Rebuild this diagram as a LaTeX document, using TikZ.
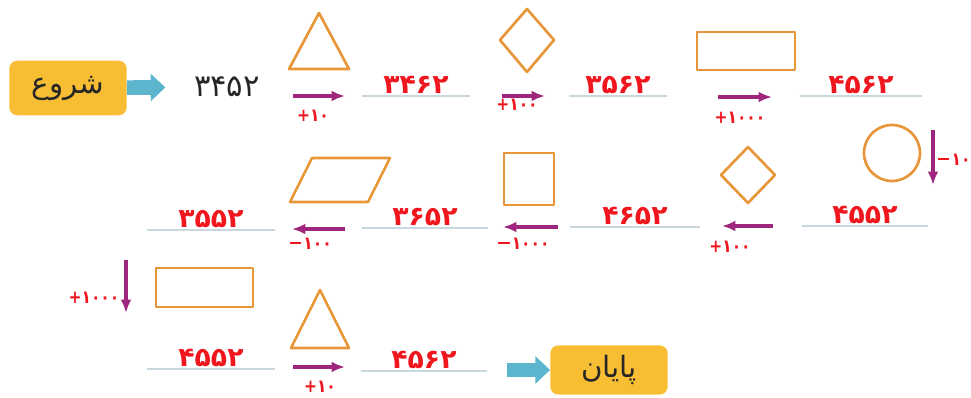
\documentclass[tikz,border=0pt]{standalone}
\usepackage{fontspec}
\usepackage{tikz}
\usetikzlibrary{positioning,arrows.meta}
\TeXXeTstate=1
\newfontfamily\farsi[Script=Arabic]{DejaVu Sans}
\newfontfamily\farsinarrow[Script=Arabic, FakeStretch=0.86]{DejaVu Sans}
\definecolor{shapeorange}{RGB}{232,150,58}
\definecolor{stepmagenta}{RGB}{158,38,125}
\definecolor{boxyellow}{RGB}{247,190,52}
\definecolor{pointblue}{RGB}{92,180,205}
\definecolor{blankgray}{RGB}{200,216,222}
\definecolor{numred}{RGB}{240,22,30}
\newcommand\sgn[1]{\hbox{#1}}
\newcommand\minussgn{\hbox{\rule[0.3em]{0.62em}{0.15em}\kern0.12em}}
\tikzset{
  endbox/.style={fill=boxyellow, rounded corners=6pt, minimum width=88pt, minimum height=41pt, font=\farsi\fontsize{22}{26}\selectfont, text=black!85},
  pointer/.style={-{Triangle[length=11pt, width=20pt]}, line width=11pt, pointblue},
  steparrow/.style={-{Latex[length=10pt, width=8pt]}, line width=2.6pt, stepmagenta},
  steplabel/.style={font=\farsinarrow\bfseries\fontsize{13.5}{16}\selectfont, text=numred, inner sep=1pt},
  blank/.style={anchor=south, inner sep=1.5pt, font=\farsi\bfseries\fontsize{20}{24}\selectfont, text=numred},
  blankline/.style={blankgray, line width=1.2pt},
  figure/.style={shapeorange, line width=2pt, line join=round}
}
\begin{document}
\begin{tikzpicture}[x=0.75pt, y=-0.75pt]
  \useasboundingbox (0,0) rectangle (971,398);
  % start and first number
  \node[endbox] (start) at (68,88) {\beginR شروع\endR};
  \node[font=\farsi\fontsize{23}{27}\selectfont, text=black!85] (n0) at (227,87) {۳۴۵۲};
  \draw[pointer, shorten >=18pt] (start) -- (n0);

  % blanks
  \node[blank, minimum width=81pt] (b1) at (416,96) {۳۴۶۲};
  \node[blank, minimum width=73pt] (b2) at (618,96) {۳۵۶۲};
  \node[blank, minimum width=91.5pt] (b3) at (861,96) {۴۵۶۲};
  \node[blank, minimum width=94pt] (b4) at (865,226) {۴۵۵۲};
  \node[blank, minimum width=97.5pt] (b5) at (635,227) {۴۶۵۲};
  \node[blank, minimum width=94.5pt] (b6) at (425,228) {۳۶۵۲};
  \node[blank, minimum width=95pt] (b7) at (211,230) {۳۵۵۲};
  \node[blank, minimum width=95pt] (b8) at (211,369) {۴۵۵۲};
  \node[blank, minimum width=94pt] (b9) at (424,371) {۴۵۶۲};
  \foreach \b in {b1,b2,b3,b4,b5,b6,b7,b8,b9}
    \draw[blankline] (\b.south west) -- (\b.south east);

  % figures
  \draw[figure] (289,69) -- (319,13) -- (349,69) -- cycle;
  \draw[figure] (527,9) -- (554,40) -- (527,72) -- (500,40) -- cycle;
  \draw[figure] (697,32) rectangle (795,70);
  \draw[figure] (892,153) circle[radius=21pt];
  \draw[figure] (748,147) -- (775,175) -- (748,203) -- (721,175) -- cycle;
  \draw[figure] (504,153) rectangle (554,205);
  \draw[figure] (290,202) -- (368,202) -- (390,158) -- (312,158) -- cycle;
  \draw[figure] (156,268) rectangle (253,307);
  \draw[figure] (291,348) -- (320,290) -- (349,348) -- cycle;

  % steps
  \coordinate (s1a) at (293,96);  \coordinate (s1b) at (345,96);
  \coordinate (s2a) at (502,96);  \coordinate (s2b) at (545,96);
  \coordinate (s3a) at (718,97);  \coordinate (s3b) at (772,97);
  \coordinate (s4a) at (933,130); \coordinate (s4b) at (933,185);
  \coordinate (s5a) at (773,226); \coordinate (s5b) at (722,226);
  \coordinate (s6a) at (558,227); \coordinate (s6b) at (503,227);
  \coordinate (s7a) at (345,229); \coordinate (s7b) at (292,229);
  \coordinate (s8a) at (126,260); \coordinate (s8b) at (126,313);
  \coordinate (s9a) at (293,367); \coordinate (s9b) at (345,367);
  \foreach \s in {s1,s2,s3,s4,s5,s6,s7,s8,s9}
    \draw[steparrow] (\s a) -- (\s b);
  \node[steplabel] (l1) at (313,116) {\sgn{+}۱۰};
  \node[steplabel] (l2) at (517,105) {\sgn{+}۱۰۰};
  \node[steplabel] (l3) at (740,118) {\sgn{+}۱۰۰۰};
  \node[steplabel, anchor=west, inner sep=0pt] (l4) at (938,160) {\minussgn ۱۰};
  \node[steplabel] (l5) at (730,247) {\sgn{+}۱۰۰};
  \node[steplabel] (l6) at (524,244) {\minussgn ۱۰۰۰};
  \node[steplabel] (l7) at (311,244) {\minussgn ۱۰۰};
  \node[steplabel, anchor=east] (l8) at (121,298) {\sgn{+}۱۰۰۰};
  \node[steplabel] (l9) at (320,387) {\sgn{+}۱۰};

  % end
  \node[endbox, minimum height=37pt] (finish) at (609,370) {\beginR پایان\endR};
  \coordinate (q) at (507,370);
  \draw[pointer] (q) -- (finish);
\end{tikzpicture}
\end{document}
